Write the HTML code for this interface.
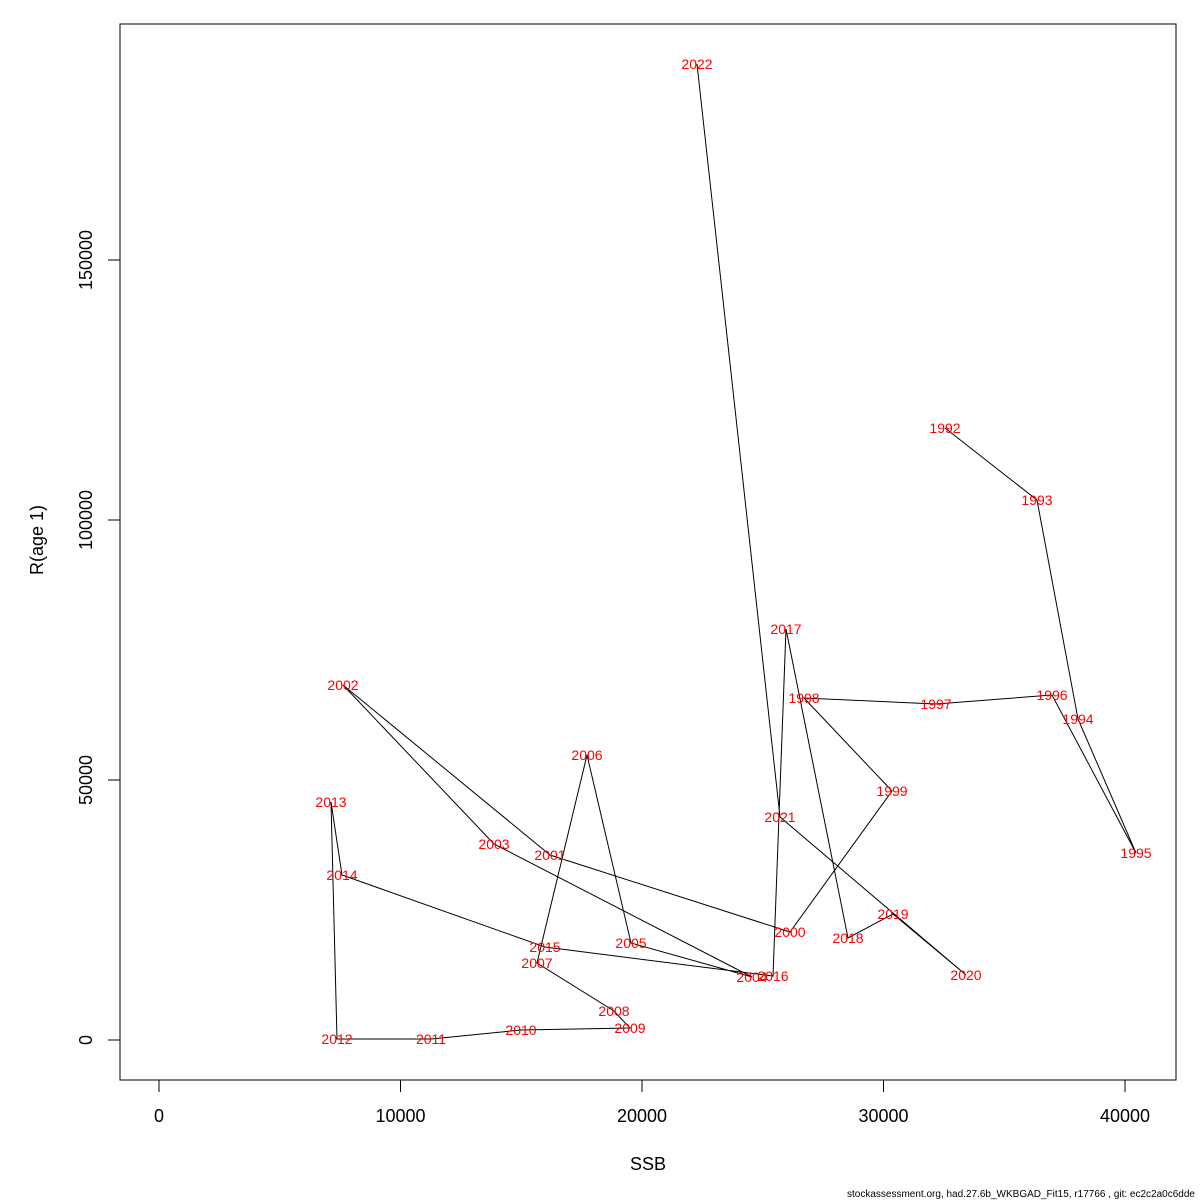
<!DOCTYPE html>
<html><head><meta charset="utf-8"><style>body{margin:0;background:#fff}svg{display:block}</style></head><body>
<svg width="1200" height="1200" xmlns="http://www.w3.org/2000/svg" font-family="Liberation Sans, sans-serif">
<rect x="120" y="24" width="1056" height="1056" fill="none" stroke="#000" stroke-width="1"/>
<g stroke="#000" stroke-width="1">
<line x1="159" y1="1080" x2="1125" y2="1080"/>
<line x1="159" y1="1080" x2="159" y2="1092"/><line x1="400.5" y1="1080" x2="400.5" y2="1092"/><line x1="642" y1="1080" x2="642" y2="1092"/><line x1="883.5" y1="1080" x2="883.5" y2="1092"/><line x1="1125" y1="1080" x2="1125" y2="1092"/>
<line x1="120" y1="1040" x2="120" y2="260"/>
<line x1="108" y1="1040" x2="120" y2="1040"/><line x1="108" y1="780" x2="120" y2="780"/><line x1="108" y1="520" x2="120" y2="520"/><line x1="108" y1="260" x2="120" y2="260"/>
</g>
<g font-size="18" text-anchor="middle">
<text x="159" y="1122">0</text><text x="400.5" y="1122">10000</text><text x="642" y="1122">20000</text><text x="883.5" y="1122">30000</text><text x="1125" y="1122">40000</text>
<text transform="translate(92,1040) rotate(-90)">0</text>
<text transform="translate(92,780) rotate(-90)">50000</text>
<text transform="translate(92,520) rotate(-90)">100000</text>
<text transform="translate(92,260) rotate(-90)">150000</text>
<text x="648" y="1170">SSB</text>
<text transform="translate(43,540) rotate(-90)">R(age 1)</text>
</g>
<polyline fill="none" stroke="#000" stroke-width="1" points="945,428 1037,500 1078,719 1136,853 1052,695 936,704 804,698 892,791 790,932 550,855 343,685 494,844 752,977 631,943 587,755 537,963 614,1011 630,1028 521,1030 431,1039 337,1039 331,802 342,875 545,947 773,976 786,629 848,938 893,914 966,975 780,817 697,64"/>
<g font-size="14" fill="#f00" text-anchor="middle" dominant-baseline="central">
<text x="945" y="428">1992</text><text x="1037" y="500">1993</text><text x="1078" y="719">1994</text><text x="1136" y="853">1995</text><text x="1052" y="695">1996</text><text x="936" y="704">1997</text><text x="804" y="698">1998</text><text x="892" y="791">1999</text><text x="790" y="932">2000</text><text x="550" y="855">2001</text><text x="343" y="685">2002</text><text x="494" y="844">2003</text><text x="752" y="977">2004</text><text x="631" y="943">2005</text><text x="587" y="755">2006</text><text x="537" y="963">2007</text><text x="614" y="1011">2008</text><text x="630" y="1028">2009</text><text x="521" y="1030">2010</text><text x="431" y="1039">2011</text><text x="337" y="1039">2012</text><text x="331" y="802">2013</text><text x="342" y="875">2014</text><text x="545" y="947">2015</text><text x="773" y="976">2016</text><text x="786" y="629">2017</text><text x="848" y="938">2018</text><text x="893" y="914">2019</text><text x="966" y="975">2020</text><text x="780" y="817">2021</text><text x="697" y="64">2022</text>
</g>
<text x="1195" y="1197" font-size="10" text-anchor="end">stockassessment.org, had.27.6b_WKBGAD_Fit15, r17766 , git: ec2c2a0c6dde</text>
</svg>
</body></html>
